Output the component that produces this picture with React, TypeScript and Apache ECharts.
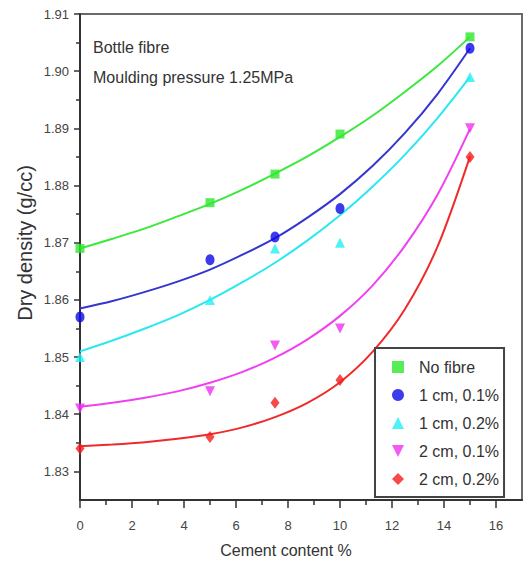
import React, { useEffect, useRef } from "react";
import * as echarts from "echarts";

// ---- data ----
const cementPoints = [0, 5, 7.5, 10, 15];
const noFibre = [1.869, 1.877, 1.882, 1.889, 1.906];
const cm1p1 = [1.857, 1.867, 1.871, 1.876, 1.904];
const cm1p2 = [1.85, 1.86, 1.869, 1.87, 1.899];
const cm2p1 = [1.841, 1.844, 1.852, 1.855, 1.89];
const cm2p2 = [1.834, 1.836, 1.842, 1.846, 1.885];

// fitted curves, read at these cement contents
const fitX = [0, 1.25, 2.5, 3.75, 5, 6.25, 7.5, 8.75, 10, 11.25, 12.5, 13.75, 15];
const fitNoFibre = [1.869, 1.8707, 1.8725, 1.8746, 1.8768, 1.8793, 1.8821, 1.8851, 1.8885, 1.8922, 1.8964, 1.9009, 1.906];
const fit1p1 = [1.8585, 1.8598, 1.8614, 1.8632, 1.8653, 1.8679, 1.8708, 1.8744, 1.8785, 1.8834, 1.8892, 1.896, 1.904];
const fit1p2 = [1.851, 1.8529, 1.855, 1.8573, 1.86, 1.8631, 1.8665, 1.8704, 1.8748, 1.8798, 1.8854, 1.8918, 1.899];
const fit2p1 = [1.8413, 1.842, 1.8429, 1.844, 1.8455, 1.8474, 1.8499, 1.8531, 1.8572, 1.8625, 1.8695, 1.8784, 1.8899];
const fit2p2 = [1.8344, 1.8347, 1.8351, 1.8357, 1.8365, 1.8377, 1.8395, 1.842, 1.8456, 1.8509, 1.8584, 1.8693, 1.8851];

const xMajorTicks = [0, 2, 4, 6, 8, 10, 12, 14, 16];
const xMinorTicks = [1, 3, 5, 7, 9, 11, 13, 15];
const yMajorTicks = [1.83, 1.84, 1.85, 1.86, 1.87, 1.88, 1.89, 1.9, 1.91];
const yMinorTicks = [1.835, 1.845, 1.855, 1.865, 1.875, 1.885, 1.895, 1.905];

const seriesNames = ["No fibre", "1 cm, 0.1%", "1 cm, 0.2%", "2 cm, 0.1%", "2 cm, 0.2%"];
const pointSets = [noFibre, cm1p1, cm1p2, cm2p1, cm2p2];
const fitSets = [fitNoFibre, fit1p1, fit1p2, fit2p1, fit2p2];
const pointColors = ["#2ee82e", "#0a0ae6", "#22f0f5", "#f030f0", "#f51c1c"];
const lineColors = ["#3be83b", "#3535d0", "#2ae8f0", "#f040f0", "#f02a2a"];
const symbols = ["rect", "circle", "triangle", "path://M0,0L10,0L5,10Z", "diamond"];
const symbolSizes: any[] = [[9, 9], [9, 11], [10, 10], [10, 10], [9, 12]];

const FONT = "Liberation Sans, Arial, sans-serif";

export default function App() {
  const ref = useRef<HTMLDivElement>(null);
  useEffect(() => {
    if (!ref.current) return;
    const chart = echarts.init(ref.current, null, { renderer: "svg" });

    const series: any[] = [];
    fitSets.forEach((f, i) => {
      series.push({
        type: "line",
        name: seriesNames[i] + " fit",
        data: fitX.map((x, k) => [x, f[k]]),
        smooth: 0.3,
        showSymbol: false,
        symbol: "none",
        lineStyle: { color: lineColors[i], width: 2 },
        xAxisIndex: 0,
        yAxisIndex: 0,
        z: 2,
      });
    });
    pointSets.forEach((p, i) => {
      series.push({
        type: "scatter",
        name: seriesNames[i],
        data: cementPoints.map((x, k) => [x, p[k]]),
        symbol: symbols[i],
        symbolSize: symbolSizes[i],
        itemStyle: { color: pointColors[i] },
        xAxisIndex: 0,
        yAxisIndex: 0,
        clip: false,
        z: 3,
      });
    });

    const option: any = {
      animation: false,
      backgroundColor: "#ffffff",
      grid: {
        left: 80,
        top: 14,
        right: 4,
        bottom: 63,
        show: true,
        borderColor: "#6a6a6a",
        borderWidth: 2,
        backgroundColor: "transparent",
      },
      legend: {
        data: seriesNames.map((n, i) => ({ name: n, icon: symbols[i] })),
        orient: "vertical",
        left: 375,
        top: 348,
        width: 132,
        itemWidth: 12,
        itemHeight: 12,
        itemGap: 12,
        padding: [11, 5, 10, 17],
        backgroundColor: "#ffffff",
        borderColor: "#444",
        borderWidth: 2,
        textStyle: {
          fontFamily: FONT,
          fontSize: 16,
          color: "#333",
          lineHeight: 16,
          padding: [0, 0, 0, 10],
        },
      },
      xAxis: [
        {
          type: "value",
          min: 0,
          max: 17,
          interval: 2,
          position: "bottom",
          axisLine: { show: true, onZero: false, lineStyle: { color: "#333", width: 2 } },
          axisTick: {
            show: true,
            customValues: xMajorTicks,
            length: 8,
            lineStyle: { color: "#333", width: 1.5 },
          },
          axisLabel: {
            customValues: xMajorTicks,
            margin: 19,
            fontFamily: FONT,
            fontSize: 13,
            color: "#444",
          },
          splitLine: { show: false },
        },
        {
          type: "value",
          min: 0,
          max: 17,
          interval: 2,
          position: "bottom",
          axisLine: { show: false },
          axisTick: {
            show: true,
            customValues: xMinorTicks,
            length: 5,
            lineStyle: { color: "#333", width: 1.5 },
          },
          axisLabel: { show: false },
          splitLine: { show: false },
        },
      ],
      yAxis: [
        {
          type: "value",
          min: 1.825,
          max: 1.91,
          position: "left",
          axisLine: { show: true, onZero: false, lineStyle: { color: "#333", width: 2 } },
          axisTick: {
            show: true,
            customValues: yMajorTicks,
            length: 6,
            lineStyle: { color: "#333", width: 1.5 },
          },
          axisLabel: {
            customValues: yMajorTicks,
            formatter: (v: number) => v.toFixed(2),
            margin: 11,
            fontFamily: FONT,
            fontSize: 13,
            color: "#444",
          },
          splitLine: { show: false },
        },
        {
          type: "value",
          min: 1.825,
          max: 1.91,
          position: "left",
          axisLine: { show: false },
          axisTick: {
            show: true,
            customValues: yMinorTicks,
            length: 4,
            lineStyle: { color: "#333", width: 1.5 },
          },
          axisLabel: { show: false },
          splitLine: { show: false },
        },
      ],
      graphic: [
        {
          type: "text",
          left: 93,
          top: 39,
          style: { text: "Bottle fibre", font: `16px ${FONT}`, fill: "#333" },
        },
        {
          type: "text",
          left: 93,
          top: 69,
          style: { text: "Moulding pressure 1.25MPa", font: `16px ${FONT}`, fill: "#333" },
        },
        {
          type: "text",
          x: 286,
          y: 550,
          style: {
            text: "Cement content %",
            font: `16px ${FONT}`,
            fill: "#333",
            textAlign: "center",
            align: "center",
            textVerticalAlign: "middle",
            verticalAlign: "middle",
          },
        },
        {
          type: "text",
          x: 25,
          y: 243,
          rotation: Math.PI / 2,
          style: {
            text: "Dry density (g/cc)",
            font: `20px ${FONT}`,
            fill: "#333",
            textAlign: "center",
            align: "center",
            textVerticalAlign: "middle",
            verticalAlign: "middle",
          },
        },
      ],
      series,
    };
    chart.setOption(option);
    return () => chart.dispose();
  }, []);
  return (
    <div
      ref={ref}
      style={{ position: "fixed", left: 0, top: 0, width: 526, height: 563 }}
    />
  );
}
